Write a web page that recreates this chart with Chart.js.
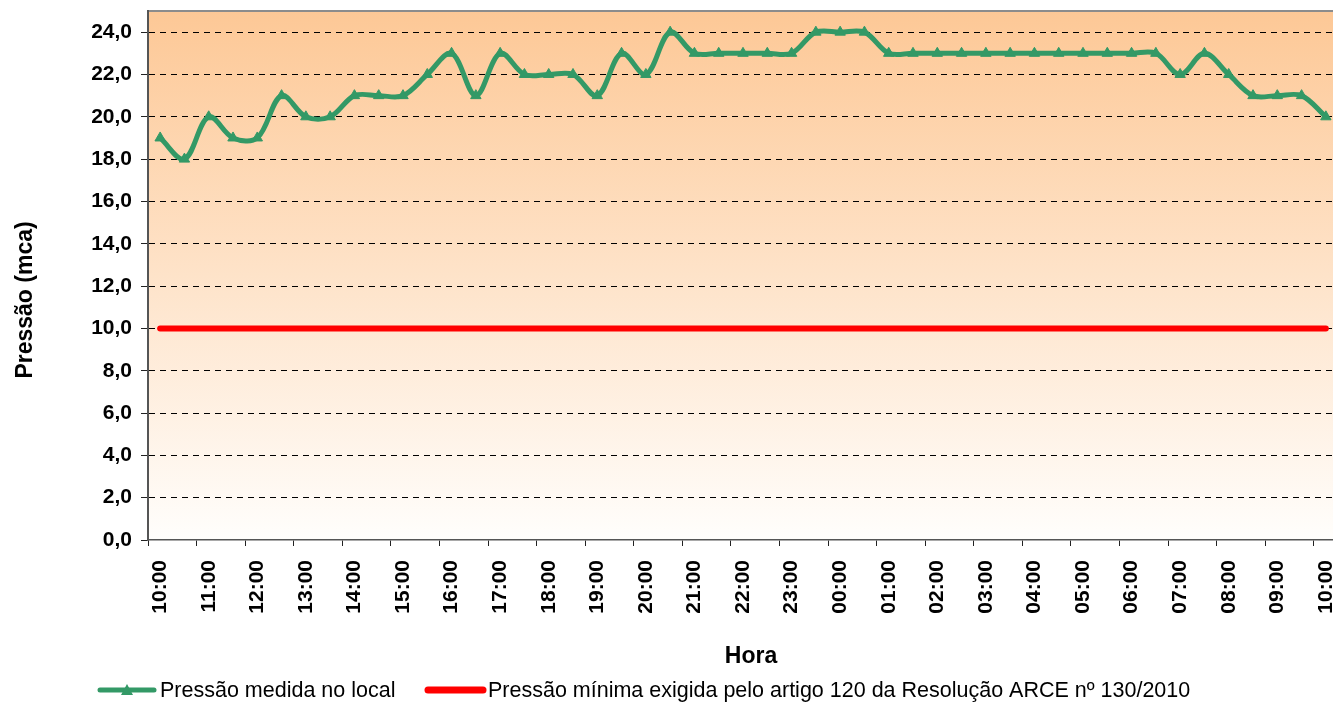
<!DOCTYPE html>
<html>
<head>
<meta charset="utf-8">
<script src="https://cdn.jsdelivr.net/npm/chart.js@4.4.1/dist/chart.umd.min.js"></script>
<style>
html,body{margin:0;padding:0;overflow:hidden;background:#fff;width:1333px;height:702px}
#wrap{position:absolute;left:0;top:0;width:1345px;height:702px}
</style>
</head>
<body>
<div id="wrap"><canvas id="c" width="1345" height="702"></canvas></div>
<script>
// Categories (half-hour readings)
const categorias = [
  "10:00","10:30","11:00","11:30","12:00","12:30","13:00","13:30","14:00","14:30",
  "15:00","15:30","16:00","16:30","17:00","17:30","18:00","18:30","19:00","19:30",
  "20:00","20:30","21:00","21:30","22:00","22:30","23:00","23:30","00:00","00:30",
  "01:00","01:30","02:00","02:30","03:00","03:30","04:00","04:30","05:00","05:30",
  "06:00","06:30","07:00","07:30","08:00","08:30","09:00","09:30","10:00"
];
// Pressão medida no local (mca)
const pressaoMedida = [
  19,18,20,19,19,21,20,20,21,21,
  21,22,23,21,23,22,22,22,21,23,
  22,24,23,23,23,23,23,24,24,24,
  23,23,23,23,23,23,23,23,23,23,
  23,23,22,23,22,21,21,21,20
];
// Pressão mínima exigida (mca)
const pressaoMinima = [
  10,10,10,10,10,10,10,10,10,10,
  10,10,10,10,10,10,10,10,10,10,
  10,10,10,10,10,10,10,10,10,10,
  10,10,10,10,10,10,10,10,10,10,
  10,10,10,10,10,10,10,10,10
];
// Y tick values
const yTicks = [0,2,4,6,8,10,12,14,16,18,20,22,24];

const serieNomes = ["Pressão medida no local", "Pressão mínima exigida pelo artigo 120 da Resolução ARCE nº 130/2010"];
const tituloY = "Pressão (mca)";
const tituloX = "Hora";

const FONT = "'Liberation Sans', Arial, Helvetica, sans-serif";
const VERDE = '#339966';
const VERMELHO = '#FF0000';

const bgPlugin = {
  id: 'bg',
  beforeDraw(chart) {
    const {ctx, chartArea: a} = chart;
    const g = ctx.createLinearGradient(0, a.top, 0, a.bottom);
    g.addColorStop(0, '#FDC896');
    g.addColorStop(1, '#FFFEFC');
    ctx.save();
    ctx.fillStyle = g;
    ctx.fillRect(a.left, a.top, a.right - a.left, a.bottom - a.top);
    ctx.strokeStyle = '#8c8c8c';
    ctx.lineWidth = 2;
    ctx.beginPath();
    ctx.moveTo(a.left, a.top);
    ctx.lineTo(a.right, a.top);
    ctx.lineTo(a.right, a.bottom);
    ctx.stroke();
    ctx.restore();
  },
  afterDraw(chart) {
    const {ctx} = chart;
    ctx.save();
    ctx.fillStyle = '#000';
    ctx.font = 'bold 23px ' + FONT;
    ctx.textAlign = 'center';
    ctx.textBaseline = 'middle';
    ctx.translate(26, 300);
    ctx.rotate(-Math.PI / 2);
    ctx.fillText(tituloY, 0, 0);
    ctx.restore();

    ctx.save();
    ctx.fillStyle = '#000';
    ctx.font = 'bold 23px ' + FONT;
    ctx.textAlign = 'center';
    ctx.textBaseline = 'middle';
    ctx.fillText(tituloX, 751, 657);

    // Legend
    const ly = 690;
    ctx.lineCap = 'round';
    ctx.strokeStyle = VERDE;
    ctx.lineWidth = 5;
    ctx.beginPath(); ctx.moveTo(100, ly); ctx.lineTo(154, ly); ctx.stroke();
    ctx.fillStyle = VERDE;
    ctx.beginPath();
    ctx.moveTo(127, ly - 6); ctx.lineTo(133, ly + 5); ctx.lineTo(121, ly + 5); ctx.closePath(); ctx.fill();
    ctx.strokeStyle = VERMELHO;
    ctx.lineWidth = 7;
    ctx.beginPath(); ctx.moveTo(428, ly); ctx.lineTo(483, ly); ctx.stroke();

    ctx.fillStyle = '#000';
    ctx.font = '21.5px ' + FONT;
    ctx.textAlign = 'left';
    ctx.textBaseline = 'middle';
    ctx.fillText(serieNomes[0], 160, ly + 1);
    ctx.fillText(serieNomes[1], 488, ly + 1);
    ctx.restore();
  }
};

new Chart(document.getElementById('c'), {
  type: 'line',
  data: {
    labels: categorias,
    datasets: [
      {
        label: serieNomes[1],
        data: pressaoMinima,
        borderColor: VERMELHO,
        backgroundColor: VERMELHO,
        borderWidth: 6,
        borderCapStyle: 'round',
        pointRadius: 0,
        pointHoverRadius: 0,
        tension: 0,
        order: 2
      },
      {
        label: serieNomes[0],
        data: pressaoMedida,
        borderColor: VERDE,
        backgroundColor: VERDE,
        borderWidth: 5,
        pointStyle: 'triangle',
        pointRadius: 6,
        pointBorderWidth: 1,
        pointBackgroundColor: VERDE,
        pointBorderColor: VERDE,
        tension: 0.35,
        order: 1
      }
    ]
  },
  options: {
    responsive: false,
    animation: false,
    devicePixelRatio: 1,
    layout: { padding: { top: 11, right: 6.5, left: 0, bottom: 0 } },
    plugins: {
      legend: { display: false },
      tooltip: { enabled: false },
      title: { display: false }
    },
    scales: {
      x: {
        type: 'category',
        offset: true,
        afterFit(s) { s.height = 162; s.paddingLeft = 0; s.paddingRight = 0; },
        grid: {
          offset: true,
          drawOnChartArea: false,
          drawTicks: true,
          tickLength: 6,
          tickColor: c => (c.index !== undefined && c.index % 2 === 0) ? '#222' : 'rgba(0,0,0,0)',
          color: 'rgba(0,0,0,0)'
        },
        border: { display: true, color: '#555', width: 1.5 },
        ticks: {
          autoSkip: false,
          minRotation: 90,
          maxRotation: 90,
          padding: 14,
          color: '#000',
          font: { family: FONT, size: 21, weight: 'bold' },
          callback(v, i) { const l = categorias[i]; return l.endsWith(':00') ? l : ''; }
        }
      },
      y: {
        min: 0,
        max: 25,
        afterFit(s) { s.width = 148; s.paddingTop = 0; s.paddingBottom = 0; },
        afterBuildTicks(s) { s.ticks = yTicks.map(v => ({ value: v })); },
        grid: {
          color: c => (c.tick && c.tick.value === 0) ? 'rgba(0,0,0,0)' : '#000',
          lineWidth: 1,
          drawTicks: true,
          tickLength: 7,
          tickColor: '#222',
          tickBorderDash: []
        },
        border: { display: true, color: '#555', width: 2, dash: [6, 5] },
        ticks: {
          padding: 9,
          color: '#000',
          font: { family: FONT, size: 21, weight: 'bold' },
          callback: v => v.toFixed(1).replace('.', ',')
        }
      }
    }
  },
  plugins: [bgPlugin]
});
</script>
</body>
</html>
